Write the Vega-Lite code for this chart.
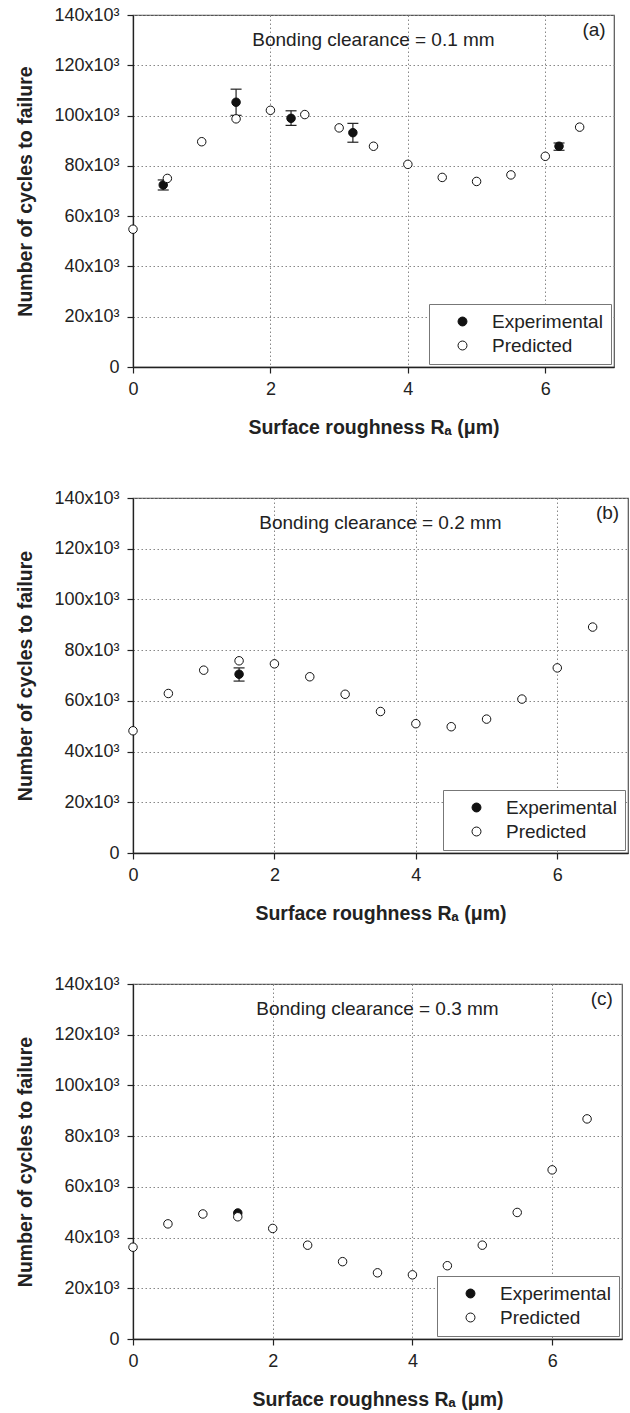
{
  "$schema": "https://vega.github.io/schema/vega-lite/v6.json",
  "background": "white",
  "padding": {"left": 15, "top": 5, "right": 5, "bottom": 5},
  "datasets": {
    "pts": [
      {"panel": "a", "series": "Experimental", "x": 0.44, "y": 72400, "lo": 70400, "hi": 74400},
      {"panel": "a", "series": "Experimental", "x": 1.5, "y": 105300, "lo": 100100, "hi": 110500},
      {"panel": "a", "series": "Experimental", "x": 2.3, "y": 98900, "lo": 96100, "hi": 101900},
      {"panel": "a", "series": "Experimental", "x": 3.2, "y": 93200, "lo": 89400, "hi": 96900},
      {"panel": "a", "series": "Experimental", "x": 6.2, "y": 87800, "lo": 86200, "hi": 89100},
      {"panel": "b", "series": "Experimental", "x": 1.5, "y": 70500, "lo": 67800, "hi": 73000},
      {"panel": "c", "series": "Experimental", "x": 1.5, "y": 49700, "lo": null, "hi": null},
      {"panel": "a", "series": "Predicted", "x": 0, "y": 54800},
      {"panel": "a", "series": "Predicted", "x": 0.5, "y": 75000},
      {"panel": "a", "series": "Predicted", "x": 1, "y": 89600},
      {"panel": "a", "series": "Predicted", "x": 1.5, "y": 98700},
      {"panel": "a", "series": "Predicted", "x": 2, "y": 102100},
      {"panel": "a", "series": "Predicted", "x": 2.5, "y": 100400},
      {"panel": "a", "series": "Predicted", "x": 3, "y": 95100},
      {"panel": "a", "series": "Predicted", "x": 3.5, "y": 87800},
      {"panel": "a", "series": "Predicted", "x": 4, "y": 80600},
      {"panel": "a", "series": "Predicted", "x": 4.5, "y": 75400},
      {"panel": "a", "series": "Predicted", "x": 5, "y": 73800},
      {"panel": "a", "series": "Predicted", "x": 5.5, "y": 76400},
      {"panel": "a", "series": "Predicted", "x": 6, "y": 83800},
      {"panel": "a", "series": "Predicted", "x": 6.5, "y": 95400},
      {"panel": "b", "series": "Predicted", "x": 0, "y": 48200},
      {"panel": "b", "series": "Predicted", "x": 0.5, "y": 62900},
      {"panel": "b", "series": "Predicted", "x": 1, "y": 72100},
      {"panel": "b", "series": "Predicted", "x": 1.5, "y": 75800},
      {"panel": "b", "series": "Predicted", "x": 2, "y": 74600},
      {"panel": "b", "series": "Predicted", "x": 2.5, "y": 69500},
      {"panel": "b", "series": "Predicted", "x": 3, "y": 62600},
      {"panel": "b", "series": "Predicted", "x": 3.5, "y": 55800},
      {"panel": "b", "series": "Predicted", "x": 4, "y": 51000},
      {"panel": "b", "series": "Predicted", "x": 4.5, "y": 49800},
      {"panel": "b", "series": "Predicted", "x": 5, "y": 52800},
      {"panel": "b", "series": "Predicted", "x": 5.5, "y": 60700},
      {"panel": "b", "series": "Predicted", "x": 6, "y": 73000},
      {"panel": "b", "series": "Predicted", "x": 6.5, "y": 89100},
      {"panel": "c", "series": "Predicted", "x": 0, "y": 36200},
      {"panel": "c", "series": "Predicted", "x": 0.5, "y": 45400},
      {"panel": "c", "series": "Predicted", "x": 1, "y": 49300},
      {"panel": "c", "series": "Predicted", "x": 1.5, "y": 48200},
      {"panel": "c", "series": "Predicted", "x": 2, "y": 43600},
      {"panel": "c", "series": "Predicted", "x": 2.5, "y": 37000},
      {"panel": "c", "series": "Predicted", "x": 3, "y": 30500},
      {"panel": "c", "series": "Predicted", "x": 3.5, "y": 26100},
      {"panel": "c", "series": "Predicted", "x": 4, "y": 25300},
      {"panel": "c", "series": "Predicted", "x": 4.5, "y": 28900},
      {"panel": "c", "series": "Predicted", "x": 5, "y": 37000},
      {"panel": "c", "series": "Predicted", "x": 5.5, "y": 49900},
      {"panel": "c", "series": "Predicted", "x": 6, "y": 66700},
      {"panel": "c", "series": "Predicted", "x": 6.5, "y": 86800}
    ],
    "notes": [
      {"panel": "a", "x": 3.5, "y": 130000, "label": "Bonding clearance = 0.1 mm"},
      {"panel": "a", "x": 6.71, "y": 134000, "label": "(a)"},
      {"panel": "b", "x": 3.5, "y": 130000, "label": "Bonding clearance = 0.2 mm"},
      {"panel": "b", "x": 6.71, "y": 134000, "label": "(b)"},
      {"panel": "c", "x": 3.5, "y": 130000, "label": "Bonding clearance = 0.3 mm"},
      {"panel": "c", "x": 6.71, "y": 134000, "label": "(c)"}
    ]
  },
  "bounds": "flush",
  "spacing": 131,
  "resolve": {"scale": {"fill": "independent"}, "legend": {"fill": "independent"}},
  "vconcat": [
    {
      "width": 481, "height": 352,
      "layer": [
        {"data": {"name": "pts"}, "transform": [{"filter": "datum.panel == 'a' && isValid(datum.lo)"}],
         "mark": {"type": "rule", "color": "#222", "strokeWidth": 1.2},
         "encoding": {"x": {"field": "x", "type": "quantitative", "scale": {"domain": [0, 7], "nice": false}, "axis": {"values": [0, 2, 4, 6], "title": "Surface roughness Rₐ (μm)"}},
                      "y": {"field": "lo", "type": "quantitative", "scale": {"domain": [0, 140000], "nice": false}, "axis": {"values": [0, 20000, 40000, 60000, 80000, 100000, 120000, 140000], "labelExpr": "datum.value == 0 ? '0' : format(datum.value/1000, 'd') + 'x10³'", "title": "Number of cycles to failure"}},
                      "y2": {"field": "hi"}}},
        {"data": {"name": "pts"}, "transform": [{"filter": "datum.panel == 'a' && isValid(datum.lo)"}],
         "mark": {"type": "tick", "orient": "horizontal", "size": 11, "thickness": 1.2, "color": "#222", "opacity": 1},
         "encoding": {"x": {"field": "x", "type": "quantitative", "axis": {"values": [0, 2, 4, 6], "title": "Surface roughness Rₐ (μm)"}},
                      "y": {"field": "lo", "type": "quantitative", "axis": {"values": [0, 20000, 40000, 60000, 80000, 100000, 120000, 140000], "labelExpr": "datum.value == 0 ? '0' : format(datum.value/1000, 'd') + 'x10³'", "title": "Number of cycles to failure"}}}},
        {"data": {"name": "pts"}, "transform": [{"filter": "datum.panel == 'a' && isValid(datum.hi)"}],
         "mark": {"type": "tick", "orient": "horizontal", "size": 11, "thickness": 1.2, "color": "#222", "opacity": 1},
         "encoding": {"x": {"field": "x", "type": "quantitative", "axis": {"values": [0, 2, 4, 6], "title": "Surface roughness Rₐ (μm)"}},
                      "y": {"field": "hi", "type": "quantitative", "axis": {"values": [0, 20000, 40000, 60000, 80000, 100000, 120000, 140000], "labelExpr": "datum.value == 0 ? '0' : format(datum.value/1000, 'd') + 'x10³'", "title": "Number of cycles to failure"}}}},
        {"data": {"name": "pts"}, "transform": [{"filter": "datum.panel == 'a'"}],
         "mark": {"type": "circle", "size": 72, "stroke": "#111", "strokeWidth": 1, "opacity": 1},
         "encoding": {
           "x": {"field": "x", "type": "quantitative", "axis": {"values": [0, 2, 4, 6], "title": "Surface roughness Rₐ (μm)"}},
           "y": {"field": "y", "type": "quantitative", "axis": {"values": [0, 20000, 40000, 60000, 80000, 100000, 120000, 140000], "labelExpr": "datum.value == 0 ? '0' : format(datum.value/1000, 'd') + 'x10³'", "title": "Number of cycles to failure"}},
           "fill": {"field": "series", "type": "nominal", "scale": {"domain": ["Experimental", "Predicted"], "range": ["#111111", "#ffffff"]},
                    "legend": {"title": null, "orient": "bottom-right", "offset": 3, "fillColor": "white", "strokeColor": "#777", "padding": 8, "labelFontSize": 19, "labelFont": "Liberation Sans", "labelColor": "#222", "symbolType": "circle", "symbolSize": 80, "symbolStrokeColor": "#111", "symbolStrokeWidth": 1, "symbolOpacity": 1, "symbolOffset": 16, "labelOffset": 20, "rowPadding": 4}}
         }},
        {"data": {"name": "notes"}, "transform": [{"filter": "datum.panel == 'a'"}],
         "mark": {"type": "text", "fontSize": 19, "font": "Liberation Sans", "color": "#222"},
         "encoding": {"x": {"field": "x", "type": "quantitative", "axis": {"values": [0, 2, 4, 6], "title": "Surface roughness Rₐ (μm)"}},
                      "y": {"field": "y", "type": "quantitative", "axis": {"values": [0, 20000, 40000, 60000, 80000, 100000, 120000, 140000], "labelExpr": "datum.value == 0 ? '0' : format(datum.value/1000, 'd') + 'x10³'", "title": "Number of cycles to failure"}},
                      "text": {"field": "label"}}}
      ]
    },
    {
      "width": 495, "height": 355,
      "layer": [
        {"data": {"name": "pts"}, "transform": [{"filter": "datum.panel == 'b' && isValid(datum.lo)"}],
         "mark": {"type": "rule", "color": "#222", "strokeWidth": 1.2},
         "encoding": {"x": {"field": "x", "type": "quantitative", "scale": {"domain": [0, 7], "nice": false}, "axis": {"values": [0, 2, 4, 6], "title": "Surface roughness Rₐ (μm)"}},
                      "y": {"field": "lo", "type": "quantitative", "scale": {"domain": [0, 140000], "nice": false}, "axis": {"values": [0, 20000, 40000, 60000, 80000, 100000, 120000, 140000], "labelExpr": "datum.value == 0 ? '0' : format(datum.value/1000, 'd') + 'x10³'", "title": "Number of cycles to failure"}},
                      "y2": {"field": "hi"}}},
        {"data": {"name": "pts"}, "transform": [{"filter": "datum.panel == 'b' && isValid(datum.lo)"}],
         "mark": {"type": "tick", "orient": "horizontal", "size": 11, "thickness": 1.2, "color": "#222", "opacity": 1},
         "encoding": {"x": {"field": "x", "type": "quantitative", "axis": {"values": [0, 2, 4, 6], "title": "Surface roughness Rₐ (μm)"}},
                      "y": {"field": "lo", "type": "quantitative", "axis": {"values": [0, 20000, 40000, 60000, 80000, 100000, 120000, 140000], "labelExpr": "datum.value == 0 ? '0' : format(datum.value/1000, 'd') + 'x10³'", "title": "Number of cycles to failure"}}}},
        {"data": {"name": "pts"}, "transform": [{"filter": "datum.panel == 'b' && isValid(datum.hi)"}],
         "mark": {"type": "tick", "orient": "horizontal", "size": 11, "thickness": 1.2, "color": "#222", "opacity": 1},
         "encoding": {"x": {"field": "x", "type": "quantitative", "axis": {"values": [0, 2, 4, 6], "title": "Surface roughness Rₐ (μm)"}},
                      "y": {"field": "hi", "type": "quantitative", "axis": {"values": [0, 20000, 40000, 60000, 80000, 100000, 120000, 140000], "labelExpr": "datum.value == 0 ? '0' : format(datum.value/1000, 'd') + 'x10³'", "title": "Number of cycles to failure"}}}},
        {"data": {"name": "pts"}, "transform": [{"filter": "datum.panel == 'b'"}],
         "mark": {"type": "circle", "size": 72, "stroke": "#111", "strokeWidth": 1, "opacity": 1},
         "encoding": {
           "x": {"field": "x", "type": "quantitative", "axis": {"values": [0, 2, 4, 6], "title": "Surface roughness Rₐ (μm)"}},
           "y": {"field": "y", "type": "quantitative", "axis": {"values": [0, 20000, 40000, 60000, 80000, 100000, 120000, 140000], "labelExpr": "datum.value == 0 ? '0' : format(datum.value/1000, 'd') + 'x10³'", "title": "Number of cycles to failure"}},
           "fill": {"field": "series", "type": "nominal", "scale": {"domain": ["Experimental", "Predicted"], "range": ["#111111", "#ffffff"]},
                    "legend": {"title": null, "orient": "bottom-right", "offset": 3, "fillColor": "white", "strokeColor": "#777", "padding": 8, "labelFontSize": 19, "labelFont": "Liberation Sans", "labelColor": "#222", "symbolType": "circle", "symbolSize": 80, "symbolStrokeColor": "#111", "symbolStrokeWidth": 1, "symbolOpacity": 1, "symbolOffset": 16, "labelOffset": 20, "rowPadding": 4}}
         }},
        {"data": {"name": "notes"}, "transform": [{"filter": "datum.panel == 'b'"}],
         "mark": {"type": "text", "fontSize": 19, "font": "Liberation Sans", "color": "#222"},
         "encoding": {"x": {"field": "x", "type": "quantitative", "axis": {"values": [0, 2, 4, 6], "title": "Surface roughness Rₐ (μm)"}},
                      "y": {"field": "y", "type": "quantitative", "axis": {"values": [0, 20000, 40000, 60000, 80000, 100000, 120000, 140000], "labelExpr": "datum.value == 0 ? '0' : format(datum.value/1000, 'd') + 'x10³'", "title": "Number of cycles to failure"}},
                      "text": {"field": "label"}}}
      ]
    },
    {
      "width": 489, "height": 355,
      "layer": [
        {"data": {"name": "pts"}, "transform": [{"filter": "datum.panel == 'c'"}],
         "mark": {"type": "circle", "size": 72, "stroke": "#111", "strokeWidth": 1, "opacity": 1},
         "encoding": {
           "x": {"field": "x", "type": "quantitative", "scale": {"domain": [0, 7], "nice": false}, "axis": {"values": [0, 2, 4, 6], "title": "Surface roughness Rₐ (μm)"}},
           "y": {"field": "y", "type": "quantitative", "scale": {"domain": [0, 140000], "nice": false}, "axis": {"values": [0, 20000, 40000, 60000, 80000, 100000, 120000, 140000], "labelExpr": "datum.value == 0 ? '0' : format(datum.value/1000, 'd') + 'x10³'", "title": "Number of cycles to failure"}},
           "fill": {"field": "series", "type": "nominal", "scale": {"domain": ["Experimental", "Predicted"], "range": ["#111111", "#ffffff"]},
                    "legend": {"title": null, "orient": "bottom-right", "offset": 3, "fillColor": "white", "strokeColor": "#777", "padding": 8, "labelFontSize": 19, "labelFont": "Liberation Sans", "labelColor": "#222", "symbolType": "circle", "symbolSize": 80, "symbolStrokeColor": "#111", "symbolStrokeWidth": 1, "symbolOpacity": 1, "symbolOffset": 16, "labelOffset": 20, "rowPadding": 4}}
         }},
        {"data": {"name": "notes"}, "transform": [{"filter": "datum.panel == 'c'"}],
         "mark": {"type": "text", "fontSize": 19, "font": "Liberation Sans", "color": "#222"},
         "encoding": {"x": {"field": "x", "type": "quantitative", "axis": {"values": [0, 2, 4, 6], "title": "Surface roughness Rₐ (μm)"}},
                      "y": {"field": "y", "type": "quantitative", "axis": {"values": [0, 20000, 40000, 60000, 80000, 100000, 120000, 140000], "labelExpr": "datum.value == 0 ? '0' : format(datum.value/1000, 'd') + 'x10³'", "title": "Number of cycles to failure"}},
                      "text": {"field": "label"}}}
      ]
    }
  ],
  "config": {
    "font": "Liberation Sans",
    "view": {"stroke": "#555", "strokeWidth": 1.2},
    "axis": {
      "labelFont": "Liberation Sans", "labelFontSize": 18, "labelColor": "#222",
      "titleFont": "Liberation Sans", "titleFontSize": 19.5, "titleFontWeight": "bold", "titleColor": "#222",
      "domainColor": "#222", "domainWidth": 1.3, "tickColor": "#222", "tickSize": 6, "tickWidth": 1.2,
      "grid": true, "gridColor": "#888", "gridDash": [1.5, 2.5], "gridWidth": 1,
      "labelFlush": false, "labelOverlap": false
    },
    "axisX": {"labelPadding": 7, "titlePadding": 20},
    "axisY": {"labelPadding": 8, "titlePadding": 18}
  }
}
